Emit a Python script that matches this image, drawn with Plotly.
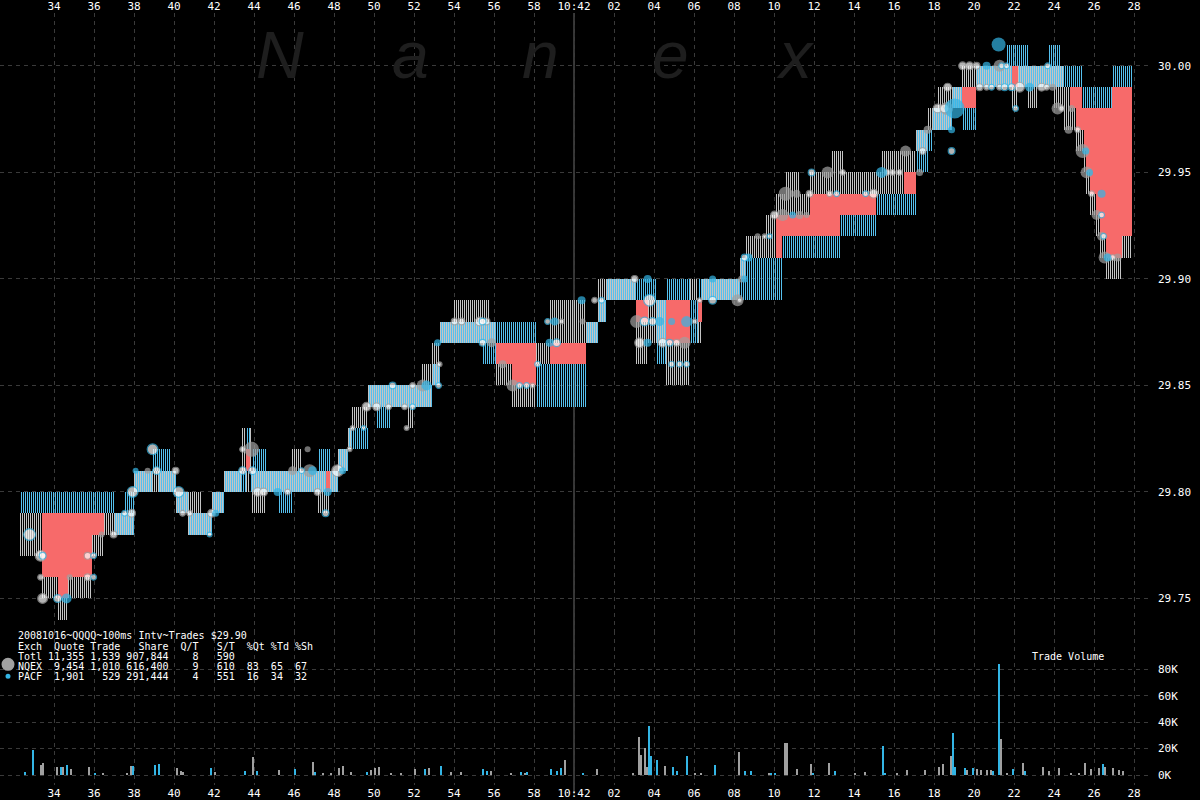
import numpy as np
import plotly.graph_objects as go

# ---------------- DATA ----------------
# time = seconds after 10:41:00 ; prices in cents above $29.00
seg_t = [32.3, 33.4, 34.2, 34.7, 35.9, 36.5, 37.0, 37.5, 38.0, 38.9, 39.2, 39.8, 40.1, 40.7, 41.4, 41.9,
         42.5, 43.4, 43.6, 43.8, 43.9, 44.6, 45.2, 45.9, 46.4, 47.2, 47.6, 47.8, 48.2, 48.7, 48.9, 49.7,
         50.1, 50.8, 51.7, 52.0, 52.4, 52.9, 53.3, 54.0, 55.4, 55.8, 56.1, 56.9, 58.1, 58.8, 60.6, 61.2,
         61.6, 63.1, 63.7, 64.1, 64.6, 65.8, 66.2, 66.4, 68.3, 68.6, 69.6, 70.1, 70.4, 70.6, 71.3, 71.8,
         72.9, 73.3, 73.5, 75.1, 75.4, 76.5, 77.1, 77.7, 77.9, 78.2, 78.9, 79.4, 80.1, 81.6, 81.9, 82.2,
         82.7, 83.2, 83.7, 84.0, 84.3, 84.5, 84.8, 85.1, 85.4, 85.5, 85.6, 85.8, 86.1, 86.3, 86.6, 86.9, 87.4]
seg_end = 87.9
nq_bid = [77, 75, 74, 75, 77, 78, 78, 78, 80, 80, 80, 80, 79, 78, 78, 79,
          80, 81, 80, 81, 79, 80, 80, 80, 80, 79, 79, 80, 81, 82, 83, 84,
          84, 84, 83, 84, 84, 85, 87, 87, 87, 87, 85, 84, 86, 87, 87, 88,
          89, 86, 87, 87, 85, 89, 87, 89, 90, 91, 91, 93, 93, 93, 93, 94,
          94, 94, 94, 94, 94, 95, 96, 97, 97, 97, 98, 99, 99, 99, 98, 99,
          98, 99, 99, 98, 98, 97, 97, 96, 96, 95, 94, 93, 92, 91, 90, 90, 91]
nq_ask = [79, 76, 75, 76, 78, 79, 79, 79, 81, 81, 81, 81, 80, 80, 79, 80,
          81, 83, 81, 83, 81, 81, 81, 82, 81, 81, 80, 81, 82, 83, 84, 85,
          85, 85, 85, 85, 86, 87, 88, 89, 89, 88, 86, 85, 87, 89, 88, 90,
          90, 88, 89, 89, 87, 90, 88, 90, 91, 92, 93, 94, 94, 95, 94, 95,
          96, 96, 95, 95, 96, 96, 97, 98, 98, 99, 99, 100, 100, 100, 99, 100,
          100, 100, 100, 100, 100, 99, 98, 97, 97, 96, 95, 94, 93, 92, 91, 91, 92]
pa_bid = [79, 79, 79, 79, 79, 79, 78, 78, 80, 81, 80, 80, 79, 78, 78, 79,
          80, 80, 82, 80, 80, 80, 79, 80, 80, 80, 81, 80, 81, 82, 82, 84,
          83, 84, 84, 84, 84, 85, 87, 87, 86, 86, 87, 87, 84, 84, 87, 88,
          89, 89, 89, 86, 89, 87, 89, 89, 89, 89, 89, 89, 91, 91, 91, 91,
          91, 92, 92, 93, 93, 93, 95, 96, 97, 97, 98, 97, 99, 99, 100, 99,
          99, 99, 99, 99, 99, 99, 99, 99, 98, 98, 98, 98, 98, 98, 98, 99, 99]
pa_ask = [80, 80, 80, 80, 80, 80, 79, 80, 81, 82, 82, 81, 80, 79, 79, 80,
          81, 81, 83, 81, 82, 81, 81, 81, 81, 82, 82, 81, 82, 83, 83, 85,
          85, 85, 85, 85, 85, 86, 88, 88, 88, 88, 88, 88, 86, 86, 88, 89,
          90, 90, 90, 89, 90, 89, 90, 90, 91, 91, 91, 91, 92, 92, 92, 92,
          92, 93, 93, 94, 94, 94, 97, 97, 98, 98, 99, 98, 100, 101, 101, 101,
          100, 100, 101, 101, 100, 100, 100, 100, 99, 99, 99, 99, 99, 99, 99, 100, 100]

# trades: time, price (cents over 29.00), marker size, hollow (white centre)
nq_tr_t = [33.33, 33.43, 33.33, 34.78, 35.68, 35.68, 36.38, 36.98, 37.88, 38.68, 40.08, 40.43, 40.78, 41.88,
           43.88, 43.43, 44.18, 44.48, 45.68, 45.93, 46.78, 46.68, 47.18, 48.18, 48.78, 48.93, 49.63, 50.13,
           50.73, 51.53, 51.63, 51.93, 52.43, 53.28, 54.03, 54.38, 55.28, 55.63, 55.88, 56.43, 56.93, 57.93,
           59.38, 60.43, 61.03, 63.03, 63.13, 63.28, 64.43, 65.13, 65.53, 66.03, 66.28, 68.18, 68.28, 68.38,
           69.18, 69.53, 70.03, 70.43, 71.28, 71.63, 70.58, 71.13, 71.78, 72.68, 73.43, 72.78, 74.98, 75.68,
           75.93, 76.28, 76.58, 77.28, 77.43, 77.68, 78.63, 78.18, 78.53, 78.68, 79.43, 79.78, 80.13, 81.28,
           80.28, 80.63, 81.28, 82.28, 83.38, 83.63, 83.93, 84.18, 84.38, 84.88, 84.73, 85.18, 85.43, 85.63,
           85.88, 86.13, 86.38, 86.53, 86.93, 87.18]
nq_tr_px = [77, 75, 76, 76, 76, 77, 78, 78, 79, 81, 81, 79, 79, 79,
            82, 82, 80, 80, 80, 81, 81, 82, 80, 81, 82, 83, 84, 84,
            84, 84, 83, 85, 85, 86, 88, 88, 88, 88, 87, 86, 85, 85,
            88, 88, 89, 90, 88, 87, 87, 87, 87, 88, 89, 89, 89, 90,
            92, 92, 93, 93, 93, 93, 94, 94, 94, 95, 95, 94, 94, 95,
            95, 95, 96, 95, 96, 97, 98, 98, 98, 99, 100, 100, 100, 100,
            99, 99, 99, 99, 99, 99, 99, 98, 98, 98, 97, 97, 96, 95,
            94, 93, 92, 91, 91, 91]
nq_tr_sz = [12, 11, 7, 6, 8, 8, 6, 8, 9, 6, 8, 7, 7, 9,
            15, 7, 10, 9, 7, 9, 13, 6, 8, 13, 6, 6, 10, 9,
            7, 7, 6, 7, 12, 6, 8, 8, 10, 8, 9, 8, 12, 6,
            6, 6, 7, 8, 13, 11, 10, 8, 12, 6, 6, 12, 6, 7,
            6, 6, 9, 12, 8, 6, 14, 8, 8, 12, 7, 7, 10, 7,
            7, 7, 11, 7, 8, 8, 13, 10, 10, 9, 9, 9, 8, 12,
            8, 7, 7, 11, 9, 7, 7, 12, 7, 7, 8, 7, 14, 12,
            7, 10, 9, 12, 7, 8]
nq_tr_hollow = [1, 1, 1, 0, 1, 1, 0, 1, 1, 0, 1, 1, 1, 1,
                0, 1, 1, 1, 1, 0, 0, 0, 1, 1, 1, 1, 1, 1,
                1, 1, 1, 1, 0, 1, 1, 1, 1, 1, 0, 0, 0, 1,
                1, 0, 1, 1, 0, 1, 1, 1, 0, 1, 1, 0, 1, 0,
                0, 1, 1, 0, 0, 0, 0, 0, 1, 0, 1, 1, 1, 1,
                1, 1, 0, 0, 1, 0, 0, 1, 1, 1, 1, 1, 1, 0,
                1, 1, 1, 1, 1, 1, 0, 0, 1, 0, 0, 1, 0, 0,
                1, 0, 0, 0, 1, 0]

pa_tr_t = [32.78, 33.43, 34.18, 34.63, 35.98, 35.98, 37.53, 37.93, 38.08, 39.13, 38.93, 40.23, 41.78, 42.08,
           43.43, 43.93, 45.18, 46.38, 46.93, 47.68, 47.58, 48.43, 49.48, 51.93, 50.93, 52.63, 53.23, 53.18,
           55.43, 55.43, 57.28, 57.63, 58.18, 58.68, 59.03, 58.78, 59.13, 60.38, 61.38, 63.68, 63.53, 63.93,
           64.28, 63.78, 63.68, 64.78, 64.88, 65.28, 65.63, 64.88, 65.63, 66.93, 66.93, 68.53, 68.73, 68.53,
           69.78, 70.93, 71.88, 73.13, 74.58, 75.38, 78.88, 78.88, 79.03, 80.63, 81.38, 81.23, 80.88, 81.53,
           81.88, 82.78, 82.08, 81.63, 83.68, 85.58, 85.78, 86.38, 86.38, 86.48, 86.68]
pa_tr_px = [78, 77, 75, 75, 76, 77, 79, 80, 81, 81, 82, 80, 78, 79,
            81, 81, 80, 81, 81, 80, 79, 81, 83, 84, 85, 85, 85, 87,
            88, 87, 85, 85, 86, 88, 88, 87, 87, 89, 89, 90, 88, 88,
            88, 89, 87, 87, 86, 86, 86, 88, 88, 89, 90, 90, 91, 91,
            92, 93, 95, 94, 94, 95, 97, 96, 98, 100, 100, 101, 99, 99,
            99, 99, 98, 100, 100, 96, 95, 94, 93, 92, 91]
pa_tr_sz = [13, 8, 9, 10, 7, 7, 7, 12, 6, 9, 12, 12, 6, 7,
            9, 9, 8, 7, 9, 8, 8, 7, 6, 7, 8, 10, 7, 7,
            8, 8, 7, 7, 7, 7, 8, 8, 9, 8, 7, 8, 10, 9,
            9, 13, 8, 8, 7, 7, 7, 7, 11, 9, 7, 7, 8, 8,
            6, 7, 8, 7, 7, 11, 7, 8, 20, 8, 7, 14, 7, 8,
            8, 9, 7, 7, 7, 7, 7, 8, 7, 7, 8]
pa_tr_hollow = [1, 1, 1, 0, 1, 1, 1, 1, 0, 1, 1, 1, 1, 0,
                1, 1, 0, 1, 0, 0, 1, 0, 1, 1, 1, 0, 1, 0,
                1, 1, 1, 1, 1, 1, 0, 0, 1, 0, 1, 0, 1, 1,
                0, 1, 0, 1, 1, 1, 1, 0, 0, 1, 0, 0, 0, 1,
                1, 0, 1, 1, 1, 0, 0, 1, 0, 0, 1, 0, 1, 1,
                1, 0, 1, 1, 1, 0, 0, 0, 1, 1, 0]

# trade volume (shares) per 100ms interval
nq_vol_t = [33.3, 33.4, 34.1, 34.4, 34.8, 35.7, 36.4, 37.6, 37.8, 40.1, 40.3, 40.4, 42.0, 43.9, 45.2, 46.9,
            47.4, 47.8, 48.2, 48.4, 48.8, 49.8, 50.0, 50.2, 50.8, 51.3, 52.0, 52.7, 53.8, 54.3, 55.8, 56.8,
            57.5, 59.5, 61.1, 62.9, 63.2, 63.3, 63.5, 63.6, 64.5, 66.0, 66.3, 68.2, 69.7, 70.5, 70.6, 71.1,
            71.8, 72.7, 74.0, 74.5, 76.1, 76.6, 77.5, 78.2, 78.4, 78.8, 79.6, 80.1, 80.3, 80.6, 80.8, 81.3,
            81.6, 82.4, 83.4, 83.7, 84.2, 84.8, 85.2, 85.5, 85.8, 86.2, 86.5, 86.9, 87.2, 87.4]
nq_vol = [7000, 8800, 5800, 5800, 4500, 5800, 800, 1300, 6800, 5000, 2800, 2200, 2000, 13300, 3800, 9600,
          1500, 1500, 5000, 6500, 2000, 3300, 5000, 5500, 1500, 1200, 4300, 5000, 2000, 2000, 2500, 1500,
          1500, 11000, 4300, 1000, 28400, 14600, 20000, 5800, 6300, 1500, 1000, 17000, 1000, 23900, 23900, 4500,
          7800, 8800, 1500, 2000, 1200, 3800, 3800, 5800, 7800, 14000, 3300, 4500, 3300, 3300, 3300, 27000,
          1500, 8800, 5800, 3000, 5000, 1500, 1500, 8800, 4500, 5000, 5800, 5000, 3300, 2800]
pa_vol_t = [32.5, 32.9, 34.3, 34.6, 36.0, 37.9, 39.0, 39.2, 41.8, 43.5, 44.1, 46.0, 47.0, 49.6, 52.5, 53.3,
            55.4, 55.6, 57.3, 57.6, 58.8, 59.1, 59.3, 60.4, 63.7, 63.8, 64.1, 64.9, 65.1, 65.6, 67.0, 68.5,
            68.8, 69.8, 70.0, 71.9, 73.0, 75.4, 75.5, 78.9, 79.0, 79.5, 79.9, 80.9, 81.2, 81.9, 82.5, 86.4]
pa_vol = [2000, 19000, 6000, 7300, 1300, 6800, 7500, 8000, 5000, 2500, 3000, 4000, 2000, 2000, 4300, 6500,
          4000, 2500, 2000, 2000, 4000, 3000, 4800, 1500, 36700, 14000, 10800, 5800, 2800, 14000, 7300, 2800,
          2800, 1500, 1500, 1300, 2800, 22000, 1500, 31400, 5800, 5000, 5000, 3000, 84000, 4500, 3000, 7800]

x_tick_vals = [34, 36, 38, 40, 42, 44, 46, 48, 50, 52, 54, 56, 58, 60, 62, 64, 66, 68, 70, 72, 74, 76, 78, 80,
               82, 84, 86, 88]
x_tick_text = ["34", "36", "38", "40", "42", "44", "46", "48", "50", "52", "54", "56", "58", "10:42", "02",
               "04", "06", "08", "10", "12", "14", "16", "18", "20", "22", "24", "26", "28"]
price_ticks = [29.75, 29.80, 29.85, 29.90, 29.95, 30.00]
price_tick_text = ["29.75", "29.80", "29.85", "29.90", "29.95", "30.00"]
vol_ticks = [0, 20000, 40000, 60000, 80000]
vol_tick_text = ["0K", "20K", "40K", "60K", "80K"]

legend_lines = [
    "20081016~QQQQ~100ms Intv~Trades $29.90",
    "Exch  Quote Trade   Share  Q/T   S/T  %Qt %Td %Sh",
    "Totl 11,355 1,539 907,844    8   590",
    "NQEX  9,454 1,010 616,400    9   610  83  65  67",
    "PACF  1,901   529 291,444    4   551  16  34  32",
]

# ---------------- STYLE ----------------
GRAY_Q = "#c4c4c4"
BLUE_Q = "#55c0ee"
RED = "#f76a6a"
GRAY_T = "#a0a0a0"
BLUE_T = "#33b5e5"
GRID = "#3a3a3a"
FONT = "DejaVu Sans Mono"

X0 = 31.3                      # interval starts fall on whole pixels (20 px per second)
X1 = X0 + 1152 / 20.0
VD = (786 - 632) / 774.0
P_LO, P_HI = 29.73455, 30.02481
V_LO, V_HI = -7547, 108679

# ---------------- BUILD ----------------
seg_t_a = np.array(seg_t)
t_int = np.round(np.arange(seg_t[0], seg_end - 1e-9, 0.1), 2)
idx = np.searchsorted(seg_t_a, t_int + 1e-6, side="right") - 1
nb = 29 + np.array(nq_bid)[idx] / 100.0
na = 29 + np.array(nq_ask)[idx] / 100.0
pb = 29 + np.array(pa_bid)[idx] / 100.0
pa = 29 + np.array(pa_ask)[idx] / 100.0

fig = go.Figure()

# NQEX spread: 1px bar in first half of each 100ms interval (hatched look)
fig.add_trace(go.Bar(x=t_int + 0.025, y=na - nb, base=nb, width=0.04,
                     marker=dict(color=GRAY_Q, line=dict(width=0)), hoverinfo="skip",
                     xaxis="x", yaxis="y"))
# PACF spread: 1px bar in second half of each interval
fig.add_trace(go.Bar(x=t_int + 0.075, y=pa - pb, base=pb, width=0.04,
                     marker=dict(color=BLUE_Q, line=dict(width=0)), hoverinfo="skip",
                     xaxis="x", yaxis="y"))
# crossed market: full interval
hi_bid = np.maximum(nb, pb)
lo_ask = np.minimum(na, pa)
m = hi_bid > lo_ask + 1e-9
fig.add_trace(go.Bar(x=t_int[m] + 0.05, y=hi_bid[m] - lo_ask[m], base=lo_ask[m], width=0.1,
                     marker=dict(color=RED, line=dict(width=0)), hoverinfo="skip",
                     xaxis="x", yaxis="y"))


def add_trades(tt, px, sz, hol, col):
    tt = np.array(tt); px = 29 + np.array(px) / 100.0; sz = np.array(sz, dtype=float)
    hol = np.array(hol).astype(bool)
    s = ~hol
    fig.add_trace(go.Scatter(x=tt[s], y=px[s], mode="markers",
                             marker=dict(size=sz[s], color=col, line=dict(width=0)),
                             hoverinfo="skip", xaxis="x", yaxis="y"))
    fig.add_trace(go.Scatter(x=tt[hol], y=px[hol], mode="markers",
                             marker=dict(size=sz[hol] - 1.2, color="white", line=dict(width=1.2, color=col)),
                             hoverinfo="skip", xaxis="x", yaxis="y"))


add_trades(nq_tr_t, nq_tr_px, nq_tr_sz, nq_tr_hollow, GRAY_T)
add_trades(pa_tr_t, pa_tr_px, pa_tr_sz, pa_tr_hollow, BLUE_T)

fig.add_trace(go.Bar(x=np.array(nq_vol_t) + 0.05, y=nq_vol, width=0.07, marker=dict(color=GRAY_T, line=dict(width=0)),
                     hoverinfo="skip", xaxis="x2", yaxis="y2"))
fig.add_trace(go.Bar(x=np.array(pa_vol_t) + 0.05, y=pa_vol, width=0.07, marker=dict(color=BLUE_T, line=dict(width=0)),
                     hoverinfo="skip", xaxis="x2", yaxis="y2"))

axis_font = dict(family=FONT, size=11, color="white")
common_x = dict(range=[X0, X1], tickvals=x_tick_vals, ticktext=x_tick_text, showgrid=True, gridcolor=GRID,
                griddash="4px,4px", gridwidth=1, zeroline=False, showline=False, ticks="", tickfont=axis_font,
                fixedrange=True)
common_y = dict(side="right", showgrid=True, gridcolor=GRID, griddash="4px,4px", gridwidth=1, zeroline=False,
                showline=False, ticks="", tickfont=axis_font, fixedrange=True, ticklabelstandoff=5)

annotations = []
for ch, xp in zip(["N", "a", "n", "e", "x"], [280, 410, 540, 670, 795]):
    annotations.append(dict(text=ch, x=xp / 1152.0, y=(786 - 54) / 774.0, xref="paper", yref="paper",
                            xanchor="center", yanchor="middle", showarrow=False,
                            font=dict(family="Liberation Sans", size=66, color="#1e1e1e", style="italic")))
for line, ypix in zip(legend_lines, [636, 647, 657, 667, 677]):
    annotations.append(dict(text=line.replace(" ", "\u00a0"), x=16 / 1152.0, y=(786 - ypix) / 774.0,
                            xref="paper", yref="paper", xanchor="left", yanchor="middle", showarrow=False,
                            font=dict(family=FONT, size=10, color="white")))
annotations.append(dict(text="Trade\u00a0Volume", x=1068 / 1152.0, y=(786 - 657) / 774.0, xref="paper", yref="paper",
                        xanchor="center", yanchor="middle", showarrow=False,
                        font=dict(family=FONT, size=10, color="white")))

shapes = [
    dict(type="line", xref="x", yref="paper", x0=60, x1=60, y0=-0.012, y1=1.0,
         line=dict(color="#6a6a6a", width=1), layer="below"),
    dict(type="circle", xref="paper", yref="paper", xsizemode="pixel", ysizemode="pixel",
         xanchor=8 / 1152.0, yanchor=(786 - 665) / 774.0, x0=-6.5, x1=6.5, y0=-6.5, y1=6.5,
         fillcolor=GRAY_T, line=dict(width=0)),
    dict(type="circle", xref="paper", yref="paper", xsizemode="pixel", ysizemode="pixel",
         xanchor=8 / 1152.0, yanchor=(786 - 677) / 774.0, x0=-2.5, x1=2.5, y0=-2.5, y1=2.5,
         fillcolor=BLUE_T, line=dict(width=0)),
]

fig.update_layout(
    width=1200, height=800, paper_bgcolor="black", plot_bgcolor="black",
    margin=dict(l=0, r=48, t=12, b=14), showlegend=False, barmode="overlay", bargap=0, hovermode=False,
    xaxis=dict(domain=[0, 1], anchor="y", side="top", **common_x),
    xaxis2=dict(domain=[0, 1], anchor="y2", side="bottom", **common_x),
    yaxis=dict(domain=[VD, 1], anchor="x", range=[P_LO, P_HI], tickvals=price_ticks, ticktext=price_tick_text,
               **common_y),
    yaxis2=dict(domain=[0, VD], anchor="x2", range=[V_LO, V_HI], tickvals=vol_ticks, ticktext=vol_tick_text,
                **common_y),
    annotations=annotations, shapes=shapes,
)

fig.write_html("out.html", config={"displayModeBar": False},
               post_script="document.body.style.margin='0';document.body.style.overflow='hidden';document.body.style.background='black';")
